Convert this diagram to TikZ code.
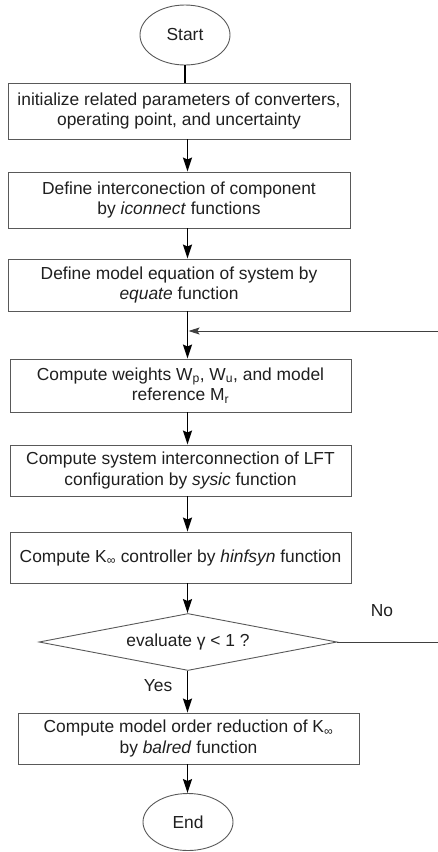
\documentclass[tikz,border=0pt]{standalone}
\usepackage{fontspec}
\setmainfont{Liberation Sans}
\usetikzlibrary{shapes.geometric,arrows.meta}
\begin{document}
\begin{tikzpicture}[x=1pt,y=-1pt,
  every node/.style={font=\fontsize{17.4}{20.5}\selectfont, text=black!88},
  procbox/.style={draw=black!65, line width=0.9pt, rectangle, align=center, inner sep=0pt},
  term/.style={draw=black!65, line width=0.9pt, ellipse, inner sep=0pt, minimum width=90pt},
  decision/.style={draw=black!65, line width=0.9pt, diamond, shape aspect=5.2, inner sep=0pt, minimum width=298pt, minimum height=57pt},
  flow/.style={draw=black, line width=1.6pt, -{Stealth[length=14pt,width=9pt,inset=2pt]}},
  plain/.style={draw=black, line width=1.6pt},
  back/.style={draw=black!75, line width=1pt, -{Stealth[length=11pt,width=7pt,inset=2pt]}},
  lbl/.style={inner sep=0pt}
]
\useasboundingbox (0,0) rectangle (437,852);
\coordinate (axis) at (187.5,0);
\node[term, minimum height=60pt] (start) at (185,35) {Start};
\node[procbox, minimum width=342pt, minimum height=56pt] (b1) at (179,111)
  {initialize related parameters of converters,\\operating point, and uncertainty};
\node[procbox, minimum width=342pt, minimum height=56pt] (b2) at (179,200)
  {Define interconection of component\\by \textit{iconnect} functions};
\node[procbox, minimum width=342pt, minimum height=52pt] (b3) at (179,285)
  {Define model equation of system by\\\textit{equate} function};
\node[procbox, minimum width=341pt, minimum height=53pt] (b4) at (180.5,385.5)
  {Compute weights W\textsubscript{p}, W\textsubscript{u}, and model\\reference M\textsubscript{r}};
\node[procbox, minimum width=341pt, minimum height=51pt] (b5) at (180.5,470.5)
  {Compute system interconnection of LFT\\configuration by \textit{sysic} function};
\node[procbox, minimum width=341pt, minimum height=51pt] (b6) at (180.5,557.5)
  {Compute K\textsubscript{∞} controller by \textit{hinfsyn} function};
\node[decision] (dec) at (188,642) {evaluate γ < 1 ?};
\node[procbox, minimum width=341pt, minimum height=51pt] (b7) at (188.5,738.5)
  {Compute model order reduction of K\textsubscript{∞}\\by \textit{balred} function};
\node[term, minimum height=57pt] (end) at (188,822) {End};
\node[lbl] (no) at (382,611) {No};
\node[lbl] (yes) at (158,686) {Yes};
\coordinate (fb) at (438.5,642);
\coordinate (fbin) at (187.5,331);

\draw[plain] (start.south) -- (b1.north -| start.south);
\draw[flow] (b1.south -| axis) -- (b2.north -| axis);
\draw[flow] (b2.south -| axis) -- (b3.north -| axis);
\draw[flow] (b3.south -| axis) -- (b4.north -| axis);
\draw[flow] (b4.south -| axis) -- (b5.north -| axis);
\draw[flow] (b5.south -| axis) -- (b6.north -| axis);
\draw[flow] (b6.south -| axis) -- (dec.north -| axis);
\draw[flow] (dec.south -| axis) -- (b7.north -| axis);
\draw[flow] (b7.south -| axis) -- (end.north -| axis);
\draw[back] (dec.east) -- (fb) |- ([xshift=1pt]fbin);
\end{tikzpicture}
\end{document}
